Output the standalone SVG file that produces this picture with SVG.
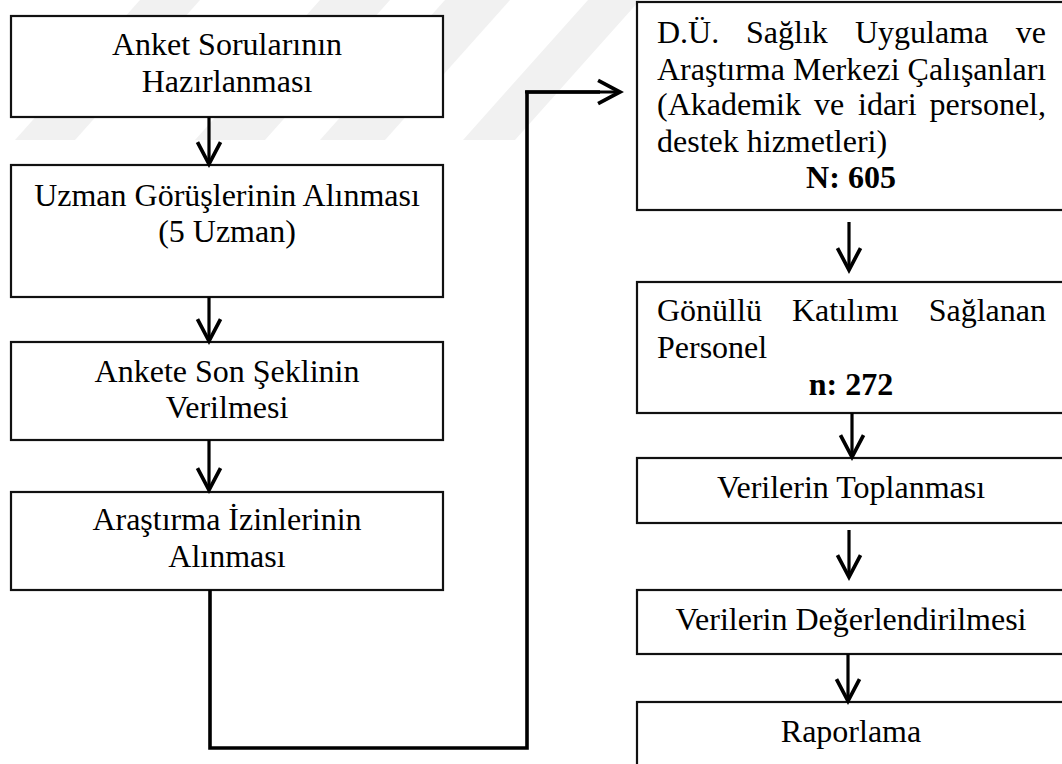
<svg xmlns="http://www.w3.org/2000/svg" width="1062" height="764" viewBox="0 0 1062 764">
  <defs>
    <marker id="arrow" markerUnits="userSpaceOnUse" markerWidth="30" markerHeight="30" refX="0" refY="0" viewBox="-22 -13 26 26" orient="auto" overflow="visible">
      <path d="M -19 -10 L 0 0 L -19 10" fill="none" stroke="#000" stroke-width="3.2" stroke-linejoin="miter" stroke-linecap="butt"/>
    </marker>
  </defs>
  <style>
    .box { fill: #fff; stroke: #111; stroke-width: 2.2; }
    .txt { font-family: "Liberation Serif", "Times New Roman", serif; font-size: 32px; fill: #000; }
    .mid { text-anchor: middle; }
    .bold { font-weight: bold; }
    .link { fill: none; stroke: #000; stroke-width: 3.2; marker-end: url(#arrow); }
    .route { fill: none; stroke: #000; stroke-width: 3.6; stroke-linejoin: miter; }
    .mark { fill: #f1f1f1; }
  </style>

  <rect width="1062" height="764" fill="#fff"/>

  <!-- faint background stripes -->
  <g id="watermark">
    <polygon class="mark" points="140,0 200,0 75,140 15,140"/>
    <polygon class="mark" points="320,0 390,0 265,140 195,140"/>
    <polygon class="mark" points="445,0 510,0 385,140 320,140"/>
    <polygon class="mark" points="588,0 640,0 515,140 463,140"/>
  </g>

  <!-- left column -->
  <g id="n1">
    <rect class="box" x="11" y="16" width="432" height="101"/>
    <text class="txt mid" x="227" y="55">Anket Sorularının</text>
    <text class="txt mid" x="227" y="92">Hazırlanması</text>
  </g>
  <g id="n2">
    <rect class="box" x="11" y="165" width="432" height="132"/>
    <text class="txt mid" x="227" y="206">Uzman Görüşlerinin Alınması</text>
    <text class="txt mid" x="227" y="242">(5 Uzman)</text>
  </g>
  <g id="n3">
    <rect class="box" x="11" y="342" width="432" height="98"/>
    <text class="txt mid" x="227" y="382">Ankete Son Şeklinin</text>
    <text class="txt mid" x="227" y="418">Verilmesi</text>
  </g>
  <g id="n4">
    <rect class="box" x="11" y="492" width="432" height="98"/>
    <text class="txt mid" x="227" y="530">Araştırma İzinlerinin</text>
    <text class="txt mid" x="227" y="567">Alınması</text>
  </g>

  <!-- right column -->
  <g id="n5">
    <rect class="box" x="637" y="2" width="440" height="208"/>
    <text class="txt" y="43"><tspan x="657">D.Ü.</tspan><tspan x="746">Sağlık</tspan><tspan x="855">Uygulama</tspan><tspan x="1046" text-anchor="end">ve</tspan></text>
    <text class="txt" x="657" y="80">Araştırma Merkezi Çalışanları</text>
    <text class="txt" y="115"><tspan x="657">(Akademik</tspan><tspan x="814">ve</tspan><tspan x="858">idari</tspan><tspan x="1046" text-anchor="end">personel,</tspan></text>
    <text class="txt" x="657" y="152">destek hizmetleri)</text>
    <text class="txt mid bold" x="851" y="188">N: 605</text>
  </g>
  <g id="n6">
    <rect class="box" x="637" y="282" width="440" height="131"/>
    <text class="txt" y="321"><tspan x="657">Gönüllü</tspan><tspan x="792">Katılımı</tspan><tspan x="1046" text-anchor="end">Sağlanan</tspan></text>
    <text class="txt" x="657" y="358">Personel</text>
    <text class="txt mid bold" x="851" y="395">n: 272</text>
  </g>
  <g id="n7">
    <rect class="box" x="637" y="458" width="440" height="65"/>
    <text class="txt mid" x="851" y="498">Verilerin Toplanması</text>
  </g>
  <g id="n8">
    <rect class="box" x="637" y="590" width="440" height="64"/>
    <text class="txt mid" x="851" y="630">Verilerin Değerlendirilmesi</text>
  </g>
  <g id="n9">
    <rect class="box" x="637" y="702" width="440" height="90"/>
    <text class="txt mid" x="851" y="742">Raporlama</text>
  </g>

  <!-- connectors -->
  <g id="connectors">
    <line class="link" x1="209" y1="117" x2="209" y2="164"/>
    <line class="link" x1="209" y1="297" x2="209" y2="341"/>
    <line class="link" x1="209" y1="440" x2="209" y2="490"/>
    <polyline class="route" points="210,590 210,748 527,748 527,92 600,92"/>
    <line class="link" x1="525" y1="92" x2="620" y2="92"/>
    <line class="link" x1="849" y1="222" x2="849" y2="270"/>
    <line class="link" x1="852" y1="413" x2="852" y2="457"/>
    <line class="link" x1="849" y1="530" x2="849" y2="577"/>
    <line class="link" x1="848" y1="654" x2="848" y2="701"/>
  </g>
</svg>
